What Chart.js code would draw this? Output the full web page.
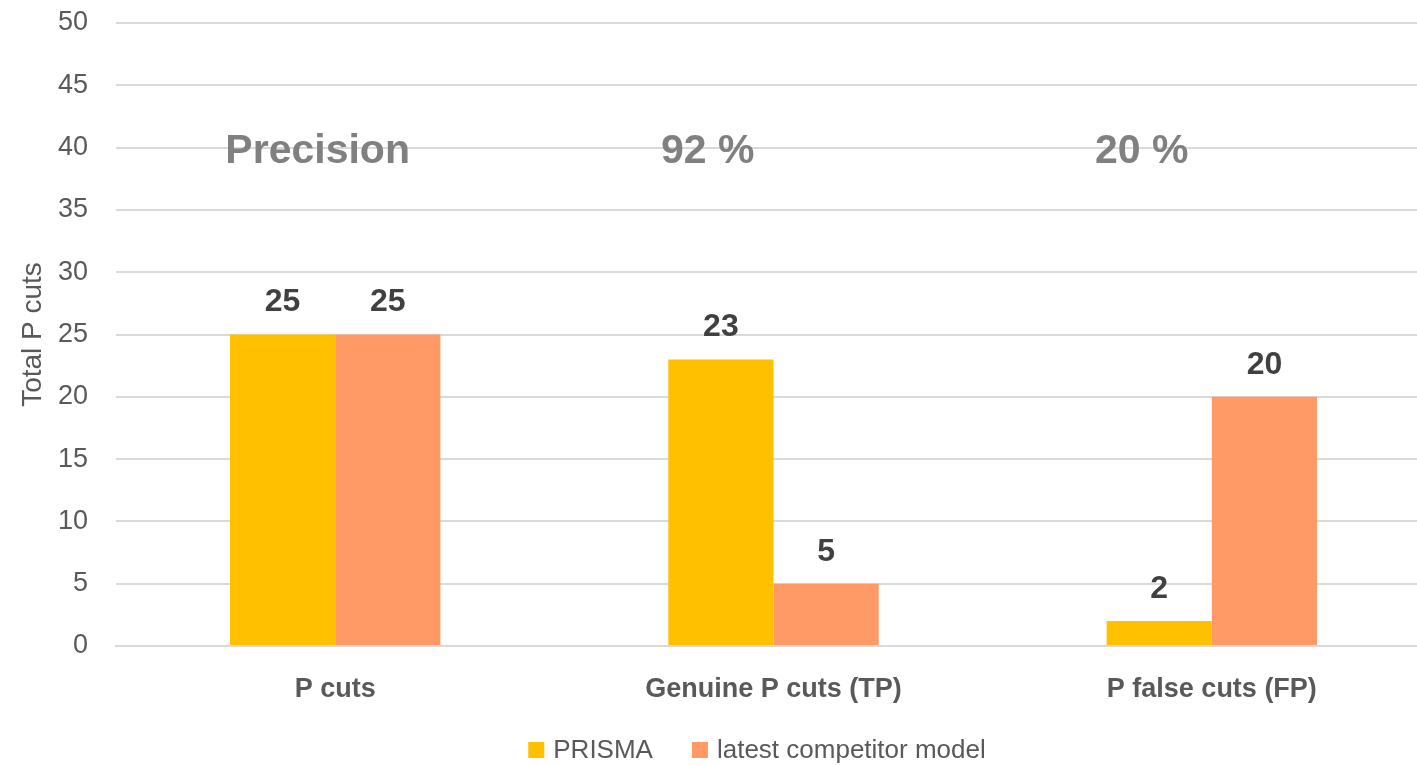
<!DOCTYPE html>
<html>
<head>
<meta charset="utf-8">
<script src="https://cdn.jsdelivr.net/npm/chart.js@4.4.1/dist/chart.umd.min.js"></script>
<style>
  html, body { margin: 0; padding: 0; background: #fff; overflow: hidden; }
  #wrap { width: 1431px; height: 765px; }
</style>
</head>
<body>
<div id="wrap"><canvas id="precisionChart"></canvas></div>
<script>
const categories = ['P cuts', 'Genuine P cuts (TP)', 'P false cuts (FP)'];
const prismaValues = [25, 23, 2];
const competitorValues = [25, 5, 20];
const seriesNames = ['PRISMA', 'latest competitor model'];
const seriesColors = ['#FFC000', '#FF9966'];
const noteTexts = ['Precision', '92 %', '20 %'];
const notePositions = [-0.04, 0.85, 1.84];
const noteLevel = 40;

const FONT = "'Liberation Sans', Arial, sans-serif";

// value labels above bars + the big grey notes
const labelsPlugin = {
  id: 'labels',
  afterDatasetsDraw(chart) {
    const c = chart.ctx;
    c.save();
    c.textAlign = 'center';
    c.textBaseline = 'middle';
    c.fillStyle = '#404040';
    c.font = 'bold 32px ' + FONT;
    chart.data.datasets.forEach((ds, i) => {
      chart.getDatasetMeta(i).data.forEach((bar, j) => {
        c.fillText(String(ds.data[j]), bar.x, bar.y - 32);
      });
    });
    const xs = chart.scales.x, ys = chart.scales.y;
    c.fillStyle = '#808080';
    c.font = 'bold 41px ' + FONT;
    noteTexts.forEach((t, i) => {
      c.fillText(t, xs.getPixelForValue(notePositions[i]), ys.getPixelForValue(noteLevel) + 4);
    });
    c.restore();
  }
};

// legend drawn by hand so it can sit where the original one does
const legendPlugin = {
  id: 'bottomLegend',
  afterDraw(chart) {
    const c = chart.ctx;
    c.save();
    c.font = '26px ' + FONT;
    c.textBaseline = 'middle';
    const box = 16, gap = 9, itemGap = 39;
    const items = chart.data.datasets.map(ds => ({ label: ds.label, color: ds.backgroundColor, w: c.measureText(ds.label).width }));
    let total = 0;
    items.forEach((it, i) => { total += box + gap + it.w + (i ? itemGap : 0); });
    let x = 757 - total / 2;
    const y = 750;
    items.forEach(it => {
      c.fillStyle = it.color;
      c.fillRect(x, y - box / 2, box, box);
      c.fillStyle = '#595959';
      c.fillText(it.label, x + box + gap, y + 1);
      x += box + gap + it.w + itemGap;
    });
    c.restore();
  }
};

new Chart(document.getElementById('precisionChart'), {
  type: 'bar',
  data: {
    labels: categories,
    datasets: [
      { label: seriesNames[0], data: prismaValues, backgroundColor: seriesColors[0], barPercentage: 1, categoryPercentage: 0.48 },
      { label: seriesNames[1], data: competitorValues, backgroundColor: seriesColors[1], barPercentage: 1, categoryPercentage: 0.48 }
    ]
  },
  options: {
    responsive: true,
    maintainAspectRatio: false,
    animation: false,
    layout: { padding: { top: 23, bottom: 49, left: 0, right: 0 } },
    plugins: { legend: { display: false }, tooltip: { enabled: false } },
    scales: {
      x: {
        grid: { display: false },
        border: { color: '#d9d9d9', width: 2 },
        ticks: { color: '#595959', font: { family: FONT, size: 27, weight: 'bold' }, padding: 19, maxRotation: 0 },
        afterFit(s) { s.height = 70; }
      },
      y: {
        min: 0,
        max: 50,
        ticks: { stepSize: 5, color: '#595959', font: { family: FONT, size: 27 }, padding: 28 },
        grid: { color: '#d9d9d9', lineWidth: 2, drawTicks: false },
        border: { display: false },
        title: { display: true, text: 'Total P cuts', color: '#595959', font: { family: FONT, size: 28 }, padding: { top: 16, bottom: 0 } },
        afterFit(s) { s.width = 116; s.paddingTop = 0; s.paddingBottom = 0; }
      }
    }
  },
  plugins: [labelsPlugin, legendPlugin]
});
</script>
</body>
</html>
